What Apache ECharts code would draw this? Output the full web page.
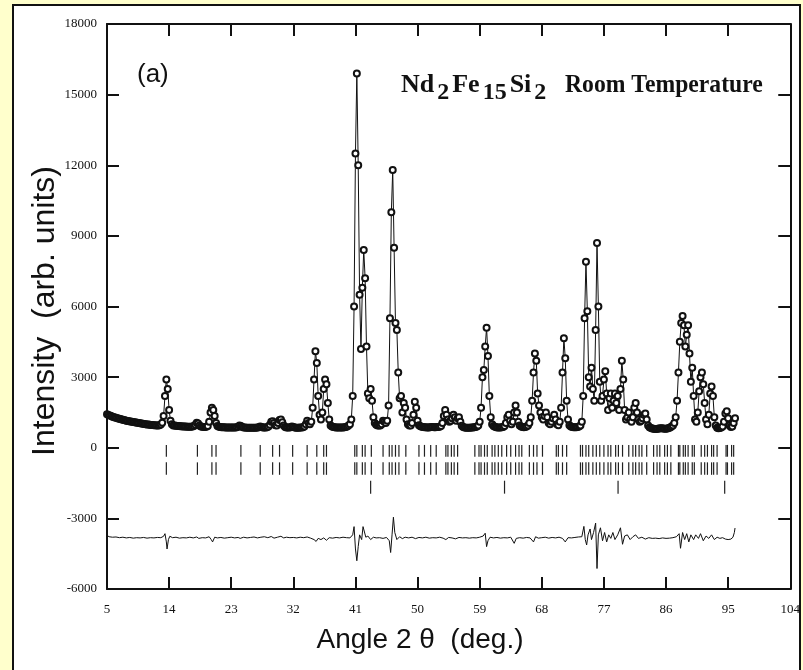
<!DOCTYPE html>
<html>
<head>
<meta charset="utf-8">
<script src="https://cdn.jsdelivr.net/npm/echarts@6/dist/echarts.min.js"></script>
<style>
html,body{margin:0;padding:0;background:#ffffcc;}
#chart{width:803px;height:670px;}
</style>
</head>
<body>
<div id="chart"></div>
<script>
// ---- data ----
const scanStart = 5.0;
const scanStep = 0.2;
const obsIntensity = [
1420,1390,1370,1350,1320,1300,1280,1260,1240,1230,
1210,1200,1180,1170,1150,1140,1130,1110,1100,1090,
1080,1070,1060,1050,1040,1030,1020,1010,1000,990,
990,980,970,970,960,960,950,950,960,990,
1060,1350,2200,2900,2500,1600,1150,1000,950,940,
930,920,920,910,910,900,900,900,890,890,
890,890,900,920,980,1060,1030,940,900,890,
880,880,890,920,1100,1500,1700,1600,1350,1050,
920,890,880,870,870,870,860,860,860,860,
860,860,860,860,870,890,940,920,880,860,
860,850,850,850,850,850,850,850,850,860,
870,900,880,860,860,860,870,900,980,1100,
1130,1050,960,950,1050,1180,1200,1080,940,880,
860,860,860,870,900,880,860,850,850,850,
860,860,870,900,1000,1150,1050,1000,1100,1700,
2900,4100,3600,2200,1400,1200,1500,2500,2900,2700,
1900,1200,950,900,880,870,860,860,860,860,
860,860,870,880,900,940,1000,1200,2200,6000,
12500,15900,12000,6500,4200,6800,8400,7200,4300,2300,
2100,2500,2000,1300,1050,980,950,940,950,1000,
1150,1100,1050,1150,1800,5500,10000,11800,8500,5300,
5000,3200,2100,2200,1500,1900,1700,1200,1000,950,
950,1050,1400,1950,1700,1150,960,910,890,880,
870,870,860,860,870,880,880,870,870,880,
880,890,920,1050,1350,1600,1400,1200,1100,1150,
1250,1400,1300,1150,1250,1300,1100,930,880,860,
850,850,850,850,860,860,870,880,900,950,
1100,1700,3000,3300,4300,5100,3900,2200,1300,1000,
920,890,870,860,860,860,870,880,920,1050,
1300,1400,1150,1000,1100,1500,1800,1500,1100,950,
900,880,870,880,900,950,1050,1300,2000,3200,
4000,3700,2300,1800,1500,1300,1200,1350,1500,1300,
1050,1000,1100,1250,1400,1200,1000,960,1100,1700,
3200,4650,3800,2000,1200,960,900,880,870,870,
870,880,900,950,1100,2200,5500,7900,5800,3000,
2600,3400,2500,2000,5000,8700,6000,2800,2000,2200,
2900,3250,2300,1600,2100,2300,1700,2000,2300,1900,
2200,1600,2500,3700,2900,1600,1200,1300,1500,1200,
1100,1300,1700,1900,1500,1200,1100,1150,1250,1400,
1450,1200,950,870,840,820,810,800,800,810,
820,830,830,820,810,810,820,840,860,900,
950,1050,1300,2000,3200,4500,5300,5600,5200,4300,
4800,5200,4000,2800,3400,2200,1200,1100,1500,2400,
3000,3200,2700,1900,1200,1000,1400,2300,2600,2200,
1300,950,850,830,840,860,900,1100,1450,1550,
1250,950,880,900,1050,1250
];

const diffCurve = [
[5.0,-3720],[5.3,-3780],[5.8,-3800],[6.3,-3790],[6.8,-3820],[7.3,-3800],[7.8,-3830],[8.3,-3810],[8.8,-3840],[9.3,-3820],
[9.8,-3830],[10.3,-3810],[10.8,-3840],[11.3,-3820],[11.8,-3830],[12.3,-3810],[12.8,-3820],[13.2,-3760],[13.4,-3650],[13.6,-4000],
[13.7,-4300],[13.9,-3900],[14.1,-3760],[14.5,-3820],[15.0,-3800],[15.5,-3840],[16.0,-3820],[16.5,-3830],[17.0,-3800],[17.5,-3830],
[18.0,-3790],[18.3,-3850],[18.8,-3820],[19.3,-3830],[19.8,-3780],[20.1,-3900],[20.3,-4000],[20.6,-3800],[21.0,-3830],[21.5,-3810],
[22.0,-3840],[22.5,-3820],[23.0,-3800],[23.5,-3830],[24.0,-3810],[24.3,-3850],[24.8,-3800],[25.3,-3830],[25.8,-3810],[26.3,-3790],
[26.8,-3830],[27.3,-3800],[27.8,-3780],[28.3,-3820],[28.8,-3770],[29.2,-3840],[29.7,-3800],[30.2,-3760],[30.6,-3830],[31.0,-3800],
[31.5,-3820],[32.0,-3810],[32.5,-3830],[33.0,-3800],[33.5,-3820],[34.0,-3790],[34.5,-3840],[35.0,-3900],[35.3,-3980],[35.6,-3850],
[36.0,-3900],[36.4,-3830],[36.8,-3930],[37.2,-3820],[37.7,-3840],[38.2,-3810],[38.7,-3830],[39.2,-3800],[39.7,-3820],[40.2,-3830],
[40.6,-3700],[40.8,-3350],[41.0,-4300],[41.2,-4800],[41.4,-4200],[41.6,-3700],[41.9,-3900],[42.1,-3350],[42.3,-3300],[42.5,-3800],
[42.8,-3750],[43.2,-3900],[43.6,-3800],[44.0,-3830],[44.5,-3820],[45.0,-3850],[45.5,-3810],[45.9,-3950],[46.1,-4450],[46.3,-3700],
[46.5,-2950],[46.7,-3600],[47.0,-3900],[47.4,-3780],[47.8,-3860],[48.2,-3800],[48.7,-3830],[49.2,-3800],[49.7,-3860],[50.2,-3810],
[50.7,-3830],[51.2,-3800],[51.7,-3840],[52.2,-3820],[52.7,-3830],[53.2,-3800],[53.7,-3840],[54.1,-3900],[54.5,-3810],[55.0,-3830],
[55.5,-3870],[56.0,-3810],[56.5,-3830],[57.0,-3820],[57.5,-3840],[58.0,-3820],[58.5,-3830],[59.0,-3800],[59.5,-3750],[59.8,-3630],
[60.0,-4200],[60.2,-3950],[60.5,-3800],[61.0,-3830],[61.5,-3810],[62.0,-3840],[62.5,-3820],[63.0,-3830],[63.5,-3800],[64.0,-4060],
[64.3,-3850],[64.8,-3820],[65.3,-3840],[65.8,-3810],[66.3,-3830],[66.8,-4000],[67.1,-3780],[67.5,-3840],[68.0,-3820],[68.5,-3800],
[69.0,-3840],[69.5,-3810],[70.0,-3830],[70.5,-3800],[71.0,-3850],[71.4,-4000],[71.8,-3820],[72.3,-3830],[72.8,-3810],[73.3,-3790],
[73.8,-3780],[74.1,-3340],[74.3,-3900],[74.5,-4130],[74.7,-3700],[75.0,-3450],[75.2,-3900],[75.5,-3600],[75.8,-3200],[76.0,-5130],
[76.2,-3700],[76.5,-3400],[76.8,-3950],[77.1,-3600],[77.4,-4000],[77.7,-3700],[78.0,-3850],[78.3,-3600],[78.6,-3900],[79.0,-3700],
[79.4,-3400],[79.7,-4100],[80.0,-3750],[80.4,-3700],[80.8,-3900],[81.2,-3780],[81.6,-3700],[82.0,-3850],[82.5,-3800],[83.0,-3880],
[83.5,-3820],[84.0,-3850],[84.5,-3840],[85.0,-3860],[85.5,-3830],[86.0,-3850],[86.5,-3840],[87.0,-3820],[87.5,-3780],[87.9,-3650],
[88.1,-4270],[88.4,-3600],[88.7,-3900],[89.0,-3650],[89.3,-4000],[89.6,-3700],[90.0,-3900],[90.3,-3700],[90.7,-3850],[91.0,-3650],
[91.4,-3950],[91.8,-3750],[92.2,-3850],[92.6,-3700],[93.0,-3900],[93.4,-3800],[93.8,-3850],[94.2,-3820],[94.6,-3880],[95.0,-3900],
[95.4,-3880],[95.7,-3800],[95.9,-3600],[96.0,-3410]
];

const braggPositions = [
13.6,18.1,20.2,20.8,24.4,27.2,29.0,30.0,31.9,34.0,35.4,36.4,36.8,
40.9,41.2,42.0,42.4,43.3,45.0,45.9,46.3,46.8,47.3,48.3,50.2,51.0,51.9,52.7,
54.1,54.4,54.9,55.3,55.8,58.3,58.9,59.2,59.7,60.1,60.8,61.2,61.7,62.2,62.9,63.5,
64.2,64.7,65.1,66.2,66.8,67.3,68.1,70.1,70.4,71.0,71.6,73.6,73.9,74.4,74.8,75.4,
75.9,76.4,77.0,77.6,78.0,78.7,79.1,79.7,80.6,81.2,81.6,82.1,82.5,83.2,84.2,84.7,
85.1,85.8,86.2,86.7,87.8,88.0,88.5,88.8,89.2,89.8,90.1,91.1,91.6,92.0,92.6,92.9,
93.4,94.7,94.9,95.5,95.8
];
const secondPhasePositions = [43.2,62.6,79.05,94.5];
// [top, bottom] intensity span of each reflection-marker row
const braggRowSpans = [[120,-380],[-620,-1150],[-1400,-1950]];

const xMin = 5, xMax = 104, xInterval = 9;
const yMin = -6000, yMax = 18000, yInterval = 3000;

// ---- build ----
const obsData = obsIntensity.map((v,i)=>[+(scanStart + i*scanStep).toFixed(2), v]);
const tickData = [];
braggPositions.forEach(p=>{ tickData.push([p, braggRowSpans[0][0], braggRowSpans[0][1]]); tickData.push([p, braggRowSpans[1][0], braggRowSpans[1][1]]); });
secondPhasePositions.forEach(p=>{ tickData.push([p, braggRowSpans[2][0], braggRowSpans[2][1]]); });

const chart = echarts.init(document.getElementById('chart'), null, {renderer:'canvas'});

const cv = document.createElement('canvas').getContext('2d');
function tw(text, font){ cv.font = font; return cv.measureText(text).width; }

const mainFont = 'bold 26px "Liberation Serif"';
const subFont = 'bold 24px "Liberation Serif"';
const formulaParts = [['Nd',0],['2',1],['Fe',0],['15',1],['Si',0],['2',1]];
const formulaEls = [];
let fx = 401;
formulaParts.forEach(([t,sub],k)=>{
  const f = sub ? subFont : mainFont;
  formulaEls.push({type:'text', z:10, style:{text:t, x:fx, y: sub ? 81 : 72, font:f, fill:'#111', verticalAlign:'alphabetic', align:'left'}});
  fx += tw(t,f) + 3;
});

const axisLineStyle = {color:'#111', width:2};
const plainLabel = v => String(v);
const option = {
  backgroundColor:'#ffffcc',
  animation:false,
  grid:{left:107, right:6, top:24, bottom:81, containLabel:false},
  xAxis:[{
    type:'value', min:xMin, max:xMax, interval:xInterval, position:'bottom',
    axisLine:{show:true, onZero:false, lineStyle:axisLineStyle},
    axisTick:{show:true, inside:true, length:12, lineStyle:{color:'#111', width:2}},
    axisLabel:{show:true, margin:14, color:'#111', fontFamily:'Liberation Serif', fontSize:13, formatter:plainLabel},
    splitLine:{show:false}
  },{
    type:'value', min:xMin, max:xMax, interval:xInterval, position:'top',
    axisLine:{show:true, onZero:false, lineStyle:axisLineStyle},
    axisTick:{show:true, inside:true, length:12, lineStyle:{color:'#111', width:2}},
    axisLabel:{show:false}, splitLine:{show:false}
  }],
  yAxis:[{
    type:'value', min:yMin, max:yMax, interval:yInterval, position:'left',
    axisLine:{show:true, onZero:false, lineStyle:axisLineStyle},
    axisTick:{show:true, inside:true, length:12, lineStyle:{color:'#111', width:2}},
    axisLabel:{show:true, margin:10, color:'#111', fontFamily:'Liberation Serif', fontSize:13, formatter:plainLabel},
    splitLine:{show:false}
  },{
    type:'value', min:yMin, max:yMax, interval:yInterval, position:'right',
    axisLine:{show:true, onZero:false, lineStyle:axisLineStyle},
    axisTick:{show:true, inside:true, length:12, lineStyle:{color:'#111', width:2}},
    axisLabel:{show:false}, splitLine:{show:false}
  }],
  graphic:{elements:[
    {type:'rect', z:-100, silent:true, shape:{x:13, y:5, width:787, height:700}, style:{fill:'#ffffff', stroke:'#111', lineWidth:2}},
    {type:'text', z:10, style:{text:'(a)', x:137, y:75, font:'26px "Liberation Sans"', fill:'#111', verticalAlign:'middle'}},
    ...formulaEls,
    {type:'text', z:10, x:565, y:72, scaleX:0.91, style:{text:'Room Temperature', x:0, y:0, font:mainFont, fill:'#111', verticalAlign:'alphabetic'}},
    {type:'text', z:10, style:{text:'Angle 2 \u03b8  (deg.)', x:420, y:640, font:'28px "Liberation Sans"', fill:'#111', align:'center', verticalAlign:'middle'}},
    {type:'text', z:10, rotation:Math.PI/2, x:45, y:311, style:{text:'Intensity  (arb. units)', x:0, y:0, font:'32px "Liberation Sans"', fill:'#111', align:'center', verticalAlign:'middle'}}
  ]},
  series:[
    {
      name:'observed', type:'line', data:obsData, xAxisIndex:0, yAxisIndex:0,
      symbol:'emptyCircle', symbolSize:6, showSymbol:true, showAllSymbol:true, sampling:'none',
      itemStyle:{color:'#111', borderColor:'#111', borderWidth:1.6},
      lineStyle:{color:'#111', width:1},
      z:3
    },
    {
      name:'reflections', type:'custom', data:tickData, xAxisIndex:0, yAxisIndex:0,
      renderItem:function(params, api){
        const a = api.coord([api.value(0), api.value(1)]);
        const b = api.coord([api.value(0), api.value(2)]);
        return {type:'line', shape:{x1:a[0], y1:a[1], x2:b[0], y2:b[1]}, style:{stroke:'#222', lineWidth:1.2}};
      },
      z:3
    },
    {
      name:'difference', type:'line', data:diffCurve, xAxisIndex:0, yAxisIndex:0,
      symbol:'none', lineStyle:{color:'#111', width:1}, z:3
    }
  ]
};
chart.setOption(option);
</script>
</body>
</html>
